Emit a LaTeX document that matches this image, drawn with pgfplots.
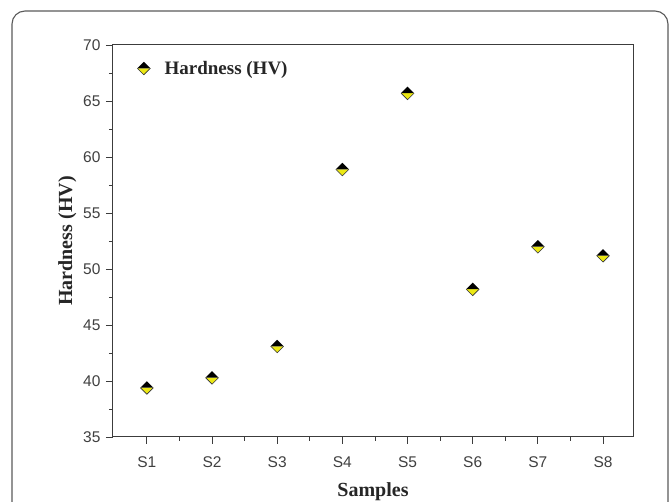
\documentclass[border=0pt]{standalone}
\usepackage{fontspec}
\setmainfont{Liberation Serif}
\setsansfont{Liberation Sans}
\usepackage{pgfplots}
\pgfplotsset{compat=1.18}

\definecolor{diayellow}{RGB}{236,232,20}
\definecolor{axgray}{RGB}{60,60,60}
\definecolor{framegray}{RGB}{90,90,90}

% diamond, black on top and yellow below
\pgfdeclareplotmark{halfdiamond}{%
  \pgfpathmoveto{\pgfqpoint{-\pgfplotmarksize}{0pt}}%
  \pgfpathlineto{\pgfqpoint{0pt}{-\pgfplotmarksize}}%
  \pgfpathlineto{\pgfqpoint{\pgfplotmarksize}{0pt}}%
  \pgfpathclose
  \pgfsetfillcolor{diayellow}\pgfusepath{fill}%
  \pgfpathmoveto{\pgfqpoint{-\pgfplotmarksize}{0pt}}%
  \pgfpathlineto{\pgfqpoint{0pt}{\pgfplotmarksize}}%
  \pgfpathlineto{\pgfqpoint{\pgfplotmarksize}{0pt}}%
  \pgfpathclose
  \pgfsetfillcolor{black}\pgfusepath{fill}%
  \pgfpathmoveto{\pgfqpoint{-\pgfplotmarksize}{0pt}}%
  \pgfpathlineto{\pgfqpoint{0pt}{-\pgfplotmarksize}}%
  \pgfpathlineto{\pgfqpoint{\pgfplotmarksize}{0pt}}%
  \pgfsetlinewidth{0.6pt}\pgfsetstrokecolor{black!80}\pgfusepath{stroke}%
}

\begin{document}
\begin{tikzpicture}
\path[use as bounding box] (-113pt,-65pt) rectangle (556pt,437pt);
\draw[framegray, line width=1.1pt, rounded corners=13pt]
  (-101pt,-120pt) -- (-101pt,426pt) -- (555pt,426pt) -- (555pt,-120pt);
\begin{axis}[
  at={(0,0)}, anchor=south west,
  scale only axis,
  width=520pt, height=392pt,
  xmin=0.48, xmax=8.46,
  ymin=35, ymax=70,
  xtick={1,...,8},
  xticklabels={S1,S2,S3,S4,S5,S6,S7,S8},
  ytick={35,40,...,70},
  minor x tick num=1,
  minor y tick num=1,
  tick align=outside,
  tick pos=left,
  major tick length=7pt,
  minor tick length=4pt,
  axis line style={axgray, line width=1pt},
  every tick/.style={axgray, line width=0.9pt},
  /pgf/number format/assume math mode=true,
  ticklabel style={font=\sffamily\fontsize{15.5}{17}\selectfont, text=black!75},
  xticklabel style={yshift=-9pt},
  yticklabel style={xshift=-2pt},
  xlabel={\textbf{Samples}},
  ylabel={\textbf{Hardness (HV)}},
  label style={font=\fontsize{20}{22}\selectfont, text=black!85},
  xlabel style={yshift=-8pt},
  ylabel style={yshift=0pt},
  legend style={at={(0.04,0.97)}, anchor=north west, draw=none, fill=none,
    font=\bfseries\fontsize{19}{21}\selectfont, text=black!85,
    legend cell align=left},
  legend image code/.code={\pgfuseplotmark{halfdiamond}},
]
\addplot[only marks, mark=halfdiamond, mark size=6.5pt] coordinates {
  (1,39.4) (2,40.3) (3,43.1) (4,58.9) (5,65.7) (6,48.2) (7,52.0) (8,51.2)
};
\addlegendentry{\hspace{12pt}Hardness (HV)}
\end{axis}
\end{tikzpicture}
\end{document}
